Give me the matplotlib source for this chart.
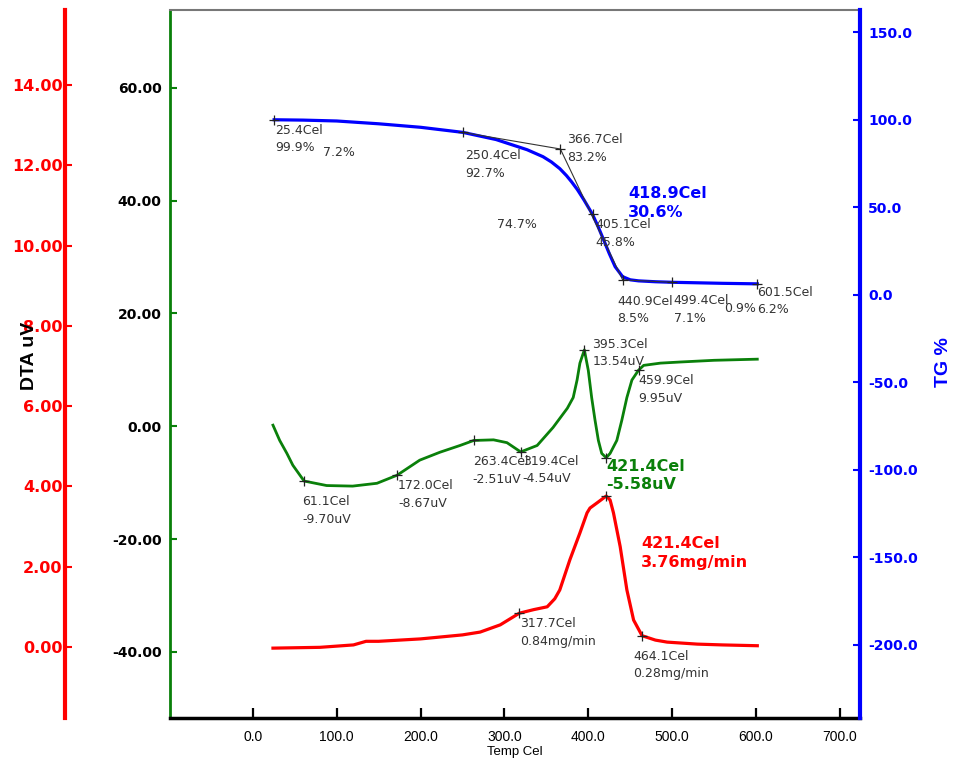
import matplotlib.pyplot as plt
from matplotlib.ticker import FormatStrFormatter

# TG curve (%)
tg_temp = [25.4, 60, 100, 150, 200, 250.4, 290, 327, 346, 356, 366, 374, 380, 387, 395,
           405.1, 412, 418.9, 425, 432, 440.9, 450, 460, 480, 499.4, 530, 560, 601.5]
tg_val = [99.9, 99.7, 99.2, 97.6, 95.6, 92.7, 88.6, 82.8, 78.8, 75.8, 72.0, 68.0, 64.5,
          60.0, 54.0, 45.8, 38.5, 30.6, 23.5, 16.0, 10.3, 8.5, 7.9, 7.4, 7.1, 6.8, 6.5, 6.2]

# DTA curve (uV)
dta_temp = [24, 32, 40.6, 47.7, 61.1, 88, 119, 148, 172.0, 199, 223, 247, 263.4, 287, 303,
            319.4, 339, 358, 375, 382, 386.6, 390, 395.3, 400, 404, 408, 412, 416, 421.4,
            426, 434, 440, 446, 452, 459.9, 466, 486, 510, 550, 601.5]
dta_val = [0.2, -2.5, -4.8, -6.9, -9.70, -10.5, -10.6, -10.1, -8.67, -6.0, -4.6, -3.4, -2.51,
           -2.4, -2.9, -4.54, -3.4, -0.2, 3.2, 5.1, 8.2, 11.2, 13.54, 9.9, 5.1, 1.1, -2.5,
           -4.8, -5.58, -4.8, -2.5, 1.1, 5.1, 8.2, 9.95, 10.8, 11.2, 11.4, 11.7, 11.9]

# DTG curve (mg/min)
dtg_temp = [24, 80, 120, 135, 150, 200, 250, 271, 295, 317.7, 335, 351, 360, 366, 378,
            390, 398.5, 402, 410.5, 421.4, 426, 430, 438, 446, 454, 464.1, 480, 494, 530,
            560, 601.5]
dtg_val = [-0.03, -0.01, 0.05, 0.14, 0.14, 0.2, 0.3, 0.37, 0.55, 0.84, 0.93, 1.0, 1.2, 1.42,
           2.17, 2.84, 3.34, 3.46, 3.59, 3.76, 3.66, 3.34, 2.5, 1.42, 0.67, 0.28, 0.17, 0.12,
           0.07, 0.05, 0.03]

# marked points
tg_mark_temp = [25.4, 250.4, 366.7, 405.1, 440.9, 499.4, 601.5]
tg_mark_val = [99.9, 92.7, 83.2, 45.8, 8.5, 7.1, 6.2]
dta_mark_temp = [61.1, 172.0, 263.4, 319.4, 395.3, 421.4, 459.9]
dta_mark_val = [-9.70, -8.67, -2.51, -4.54, 13.54, -5.58, 9.95]
dtg_mark_temp = [317.7, 421.4, 464.1]
dtg_mark_val = [0.84, 3.76, 0.28]
tg_peak = (418.9, 30.6)

x_ticks = [0, 100, 200, 300, 400, 500, 600, 700]
dta_ticks = [-40, -20, 0, 20, 40, 60]
dtg_ticks = [0, 2, 4, 6, 8, 10, 12, 14]
tg_ticks = [-200, -150, -100, -50, 0, 50, 100, 150]

BLUE = '#0000ff'
GREEN = '#0a800a'
RED = '#ff0000'
TXT = '#333333'
arial = ['Liberation Sans', 'DejaVu Sans']

fig = plt.figure(figsize=(9.54, 7.66), dpi=100)
ax = fig.add_axes([0.178, 0.0627, 0.7235, 0.9243])
ax_tg = ax.twinx()
ax_dtg = ax.twinx()

# DTA axis (green, left)
ax.plot(dta_temp, dta_val, color=GREEN, lw=2.0, zorder=3)
ax.set_xlim(-99, 724)
ax.set_ylim(-51.7, 73.8)
ax.set_xticks(x_ticks)
ax.set_xticklabels([f"{t:.1f}" for t in x_ticks], family=arial, fontsize=10)
ax.set_yticks(dta_ticks)
ax.yaxis.set_major_formatter(FormatStrFormatter('%.2f'))
ax.tick_params(axis='x', direction='in', length=7, width=1.6, pad=9, colors='black')
ax.tick_params(axis='y', direction='in', length=5, width=1.5, pad=6, color=GREEN,
               labelcolor='black')
for lab in ax.get_yticklabels():
    lab.set_fontweight('bold')
    lab.set_fontsize(10)
ax.spines['left'].set_color(GREEN)
ax.spines['left'].set_linewidth(2)
ax.spines['bottom'].set_linewidth(2.5)
ax.spines['top'].set_color('#777777')
ax.spines['top'].set_linewidth(1.5)
ax.spines['right'].set_visible(False)
ax.set_xlabel('Temp Cel', family=arial, fontsize=9.5, labelpad=1)

# TG axis (blue, right)
ax_tg.plot(tg_temp, tg_val, color=BLUE, lw=2.3, zorder=3)
ax_tg.set_ylim(-241.7, 162.6)
ax_tg.set_yticks(tg_ticks)
ax_tg.yaxis.set_major_formatter(FormatStrFormatter('%.1f'))
ax_tg.tick_params(axis='y', direction='in', length=5, width=1.5, pad=6, colors=BLUE)
for lab in ax_tg.get_yticklabels():
    lab.set_fontweight('bold')
    lab.set_fontsize(10)
for s in ['left', 'top', 'bottom']:
    ax_tg.spines[s].set_visible(False)
ax_tg.spines['right'].set_color(BLUE)
ax_tg.spines['right'].set_linewidth(3)

# DTG axis (red, far left)
ax_dtg.plot(dtg_temp, dtg_val, color=RED, lw=2.3, zorder=3)
ax_dtg.set_ylim(-1.77, 15.87)
ax_dtg.set_yticks(dtg_ticks)
ax_dtg.yaxis.set_major_formatter(FormatStrFormatter('%.2f'))
ax_dtg.spines['left'].set_position(('outward', 105 * 0.72))
ax_dtg.yaxis.set_ticks_position('left')
ax_dtg.yaxis.set_label_position('left')
for s in ['right', 'top', 'bottom']:
    ax_dtg.spines[s].set_visible(False)
ax_dtg.spines['left'].set_color(RED)
ax_dtg.spines['left'].set_linewidth(3)
ax_dtg.tick_params(axis='y', direction='in', length=5, width=1.5, pad=1.5, colors=RED)
for lab in ax_dtg.get_yticklabels():
    lab.set_fontweight('bold')
    lab.set_fontsize(11.5)

# tangent construction on TG
i0, i1, i2, i3 = 1, 2, 4, 5
ax_tg.plot([tg_mark_temp[i0], tg_mark_temp[i1], tg_mark_temp[i2], tg_mark_temp[i3]],
           [tg_mark_val[i0], tg_mark_val[i1], tg_mark_val[i2], tg_mark_val[i3]],
           color='#333333', lw=0.8, zorder=4)

mk = dict(marker='+', ls='none', color='#222222', ms=7, mew=0.9, zorder=5)
ax_tg.plot(tg_mark_temp, tg_mark_val, **mk)
ax.plot(dta_mark_temp, dta_mark_val, **mk)
ax_dtg.plot(dtg_mark_temp, dtg_mark_val, **mk)

# annotations: (dx, dy) in pixels for text top-left
tg_off = [(1, -4), (2, -17), (7, 16), (3, -4), (-5, -15), (2, -12), (0, -2)]
for t, v, off in zip(tg_mark_temp, tg_mark_val, tg_off):
    ax_tg.annotate(f"{t:.1f}Cel\n{v:.1f}%", (t, v), xytext=off, textcoords='offset pixels',
                   ha='left', va='top', fontsize=9, color=TXT, linespacing=1.45, zorder=6)

dta_off = [(-2, -14), (1, -4), (-1, -15), (2, -3), (8, 12), (0, -1), (0, -4)]
for t, v, off in zip(dta_mark_temp, dta_mark_val, dta_off):
    bold = t == 421.4
    ax.annotate(f"{t:.1f}Cel\n{v:.2f}uV", (t, v), xytext=off, textcoords='offset pixels',
                ha='left', va='top', fontsize=11.5 if bold else 9,
                fontweight='bold' if bold else 'normal',
                color=GREEN if bold else TXT, linespacing=1.3 if bold else 1.45, zorder=6)

dtg_off = [(1, -4), (35, -40), (-9, -14)]
for t, v, off in zip(dtg_mark_temp, dtg_mark_val, dtg_off):
    bold = t == 421.4
    ax_dtg.annotate(f"{t:.1f}Cel\n{v:.2f}mg/min", (t, v), xytext=off,
                    textcoords='offset pixels', ha='left', va='top',
                    fontsize=11.5 if bold else 9, fontweight='bold' if bold else 'normal',
                    color=RED if bold else TXT, linespacing=1.3 if bold else 1.45, zorder=6)

ax_tg.annotate(f"{tg_peak[0]:.1f}Cel\n{tg_peak[1]:.1f}%", tg_peak, xytext=(24, 55),
               textcoords='offset pixels', ha='left', va='top', fontsize=11.5,
               fontweight='bold', color=BLUE, linespacing=1.3, zorder=6)

# mass loss steps
steps = [(83.5, 81, tg_mark_val[0] - tg_mark_val[1]),
         (291, 40, tg_mark_val[2] - tg_mark_val[4]),
         (562, -8, tg_mark_val[5] - tg_mark_val[6])]
for x, y, d in steps:
    ax_tg.text(x, y, f"{d:.1f}%", ha='left', va='center', fontsize=9, color=TXT, zorder=6)

fig.text(0.031, 0.535, 'DTA uV', rotation=90, ha='center', va='center',
         family=arial, fontweight='bold', fontsize=14)
fig.text(0.9895, 0.527, 'TG %', rotation=90, ha='center', va='center', color=BLUE,
         family=arial, fontweight='bold', fontsize=14)

fig.savefig('out.png', dpi=100)
